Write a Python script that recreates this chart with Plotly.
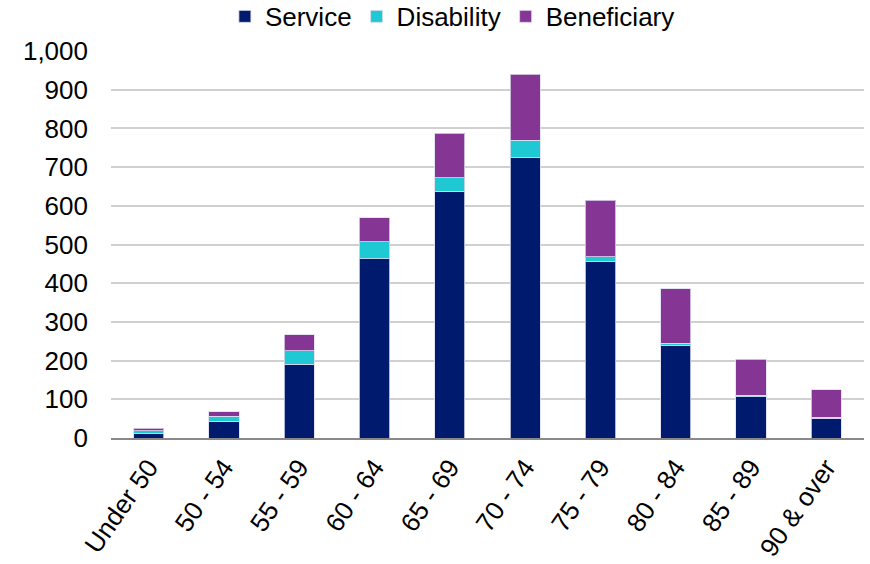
import plotly.graph_objects as go

categories = ["Under 50", "50 - 54", "55 - 59", "60 - 64", "65 - 69", "70 - 74",
              "75 - 79", "80 - 84", "85 - 89", "90 & over"]
service = [11, 43, 190, 463, 637, 724, 456, 239, 107, 51]
disability = [8, 13, 35, 44, 35, 45, 12, 6, 4, 2]
beneficiary = [6, 12, 42, 62, 115, 171, 147, 141, 93, 72]
y_ticks = [0, 100, 200, 300, 400, 500, 600, 700, 800, 900, 1000]

colors = {"Service": "#001A6E", "Disability": "#1FC9D3", "Beneficiary": "#853594"}

fig = go.Figure()
for name, vals in [("Service", service), ("Disability", disability), ("Beneficiary", beneficiary)]:
    fig.add_trace(go.Bar(
        x=categories, y=vals, name=name,
        marker=dict(color=colors[name], line=dict(color="rgba(220,220,240,0.8)", width=1)),
    ))

fig.update_layout(
    barmode="stack",
    bargap=0.6,
    width=870, height=564,
    margin=dict(l=111, r=6, t=51, b=126, autoexpand=False),
    paper_bgcolor="white", plot_bgcolor="white",
    font=dict(family="Liberation Sans, Arial, sans-serif", size=26, color="#000000"),
    legend=dict(orientation="h", x=0.52, xref="container", xanchor="center",
                y=1.15, yref="paper", yanchor="top",
                font=dict(size=26), itemwidth=30,
                tracegroupgap=0, traceorder="normal"),
    xaxis=dict(tickangle=-55, showgrid=False, showline=True, linecolor="#888888",
               linewidth=1.5, ticks="", ticklabelstandoff=2, tickfont=dict(size=26)),
    yaxis=dict(range=[0, 1000], tickvals=y_ticks, tickformat=",", showgrid=True,
               gridcolor="#D0D0D0", gridwidth=1.5, zeroline=False, showline=False,
               ticks="", ticklabelstandoff=22, tickfont=dict(size=26)),
)

fig.write_html("out.html")
